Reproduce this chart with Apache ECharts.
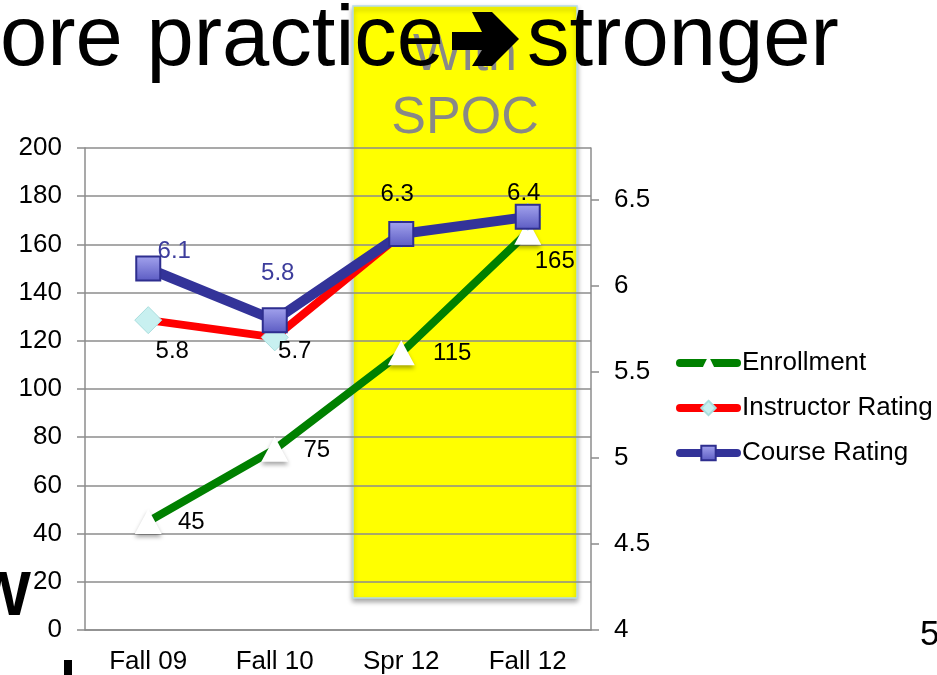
<!DOCTYPE html>
<html>
<head>
<meta charset="utf-8">
<title>Enrollment and ratings</title>
<script src="https://cdn.jsdelivr.net/npm/echarts@6/dist/echarts.min.js"></script>
<style>
  html, body { margin: 0; padding: 0; background: #fff; }
  #chart { width: 937px; height: 675px; }
</style>
</head>
<body>
<div id="chart"></div>
<script>
  // data
  const categories = ['Fall 09', 'Fall 10', 'Spr 12', 'Fall 12'];
  const enrollment = [45, 75, 115, 165];
  const instructorRating = [5.8, 5.7, 6.3, 6.4];
  const courseRating = [6.1, 5.8, 6.3, 6.4];
  const rightTicks = [4, 4.5, 5, 5.5, 6, 6.5];

  // where each value label sits relative to its point (px)
  const enrollmentLabelOffset = [[43, 1], [42, 1], [51, 1], [27, 29]];
  const instructorLabelOffset = [[24, 31], [20, 14], [-4, -40], [-4, -23]];
  const courseLabelOffset = [[26, -17], [3, -47], null, null];

  const font = 'Liberation Sans';

  function withLabels(values, offsets) {
    return values.map((v, i) => {
      if (!offsets[i]) return { value: v, label: { show: false } };
      return { value: v, label: { offset: offsets[i] } };
    });
  }

  let chart = echarts.init(document.getElementById('chart'));
  chart.setOption({
    backgroundColor: '#fff',
    animation: false,
    textStyle: { fontFamily: font },
    grid: { left: 85, right: 346, top: 148, bottom: 43 },
    legend: {
      orient: 'vertical',
      left: 671,
      top: 345,
      itemWidth: 57,
      itemHeight: 18,
      itemGap: 19,
      lineStyle: { width: 8, cap: 'round' },
      textStyle: { fontFamily: font, fontSize: 26, color: '#000' },
      data: ['Enrollment', 'Instructor Rating', 'Course Rating']
    },
    xAxis: {
      type: 'category',
      data: categories,
      axisLine: { lineStyle: { color: '#8c8c8c', width: 1.5 } },
      axisTick: { length: 8, lineStyle: { color: '#8c8c8c', width: 1.5 } },
      axisLabel: { fontSize: 26, color: '#000', margin: 19 }
    },
    yAxis: [
      {
        type: 'value',
        min: 0,
        max: 200,
        interval: 20,
        axisLine: { show: true, lineStyle: { color: '#8c8c8c', width: 1.5 } },
        axisTick: { show: true, length: 8, lineStyle: { color: '#8c8c8c', width: 1.5 } },
        axisLabel: { fontSize: 26, color: '#000', margin: 23 },
        splitLine: { lineStyle: { color: '#8c8c8c', width: 1.5 } }
      },
      {
        type: 'value',
        min: 4,
        max: 6.8,
        interval: 0.5,
        position: 'right',
        axisLine: { show: true, lineStyle: { color: '#8c8c8c', width: 1.5 } },
        axisTick: { show: true, length: 8, customValues: rightTicks, lineStyle: { color: '#8c8c8c', width: 1.5 } },
        axisLabel: { fontSize: 26, color: '#000', margin: 23, customValues: rightTicks },
        splitLine: { show: false }
      }
    ],
    graphic: [
      {
        type: 'rect',
        z: -1,
        shape: { x: 353, y: 6, width: 224, height: 592 },
        style: {
          fill: '#ffff00',
          stroke: '#b5dcea',
          lineWidth: 1.5,
          shadowBlur: 5,
          shadowOffsetY: 3,
          shadowColor: 'rgba(0,0,0,0.35)'
        }
      },
      {
        type: 'text',
        z: 5,
        style: { text: 'With', x: 465, y: 56, align: 'center', verticalAlign: 'middle', font: '52px "Liberation Sans"', fill: '#888888' }
      },
      {
        type: 'text',
        z: 5,
        style: { text: 'SPOC', x: 465, y: 119, align: 'center', verticalAlign: 'middle', font: '52px "Liberation Sans"', fill: '#888888' }
      },
      {
        type: 'text',
        z: 10,
        style: { text: 'ore practice', x: 0, y: 42, align: 'left', verticalAlign: 'middle', font: '85px "Liberation Sans"', fill: '#000' }
      },
      {
        type: 'polygon',
        z: 10,
        shape: {
          points: [[452, 32], [482, 32], [472, 12], [492, 12], [519, 39], [492, 66], [472, 66], [482, 50], [452, 50]]
        },
        style: { fill: '#000' }
      },
      {
        type: 'text',
        z: 10,
        style: { text: 'stronger', x: 527, y: 42, align: 'left', verticalAlign: 'middle', font: '85px "Liberation Sans"', fill: '#000' }
      },
      {
        type: 'text',
        z: 1,
        style: { text: 'W', x: 31, y: 598, align: 'right', verticalAlign: 'middle', font: 'bold 63px "Liberation Sans"', fill: '#000' }
      },
      {
        type: 'text',
        z: 1,
        style: { text: '5', x: 920, y: 635, align: 'left', verticalAlign: 'middle', font: '35px "Liberation Sans"', fill: '#000' }
      },
      {
        type: 'rect',
        z: 1,
        shape: { x: 64, y: 660, width: 8, height: 15 },
        style: { fill: '#000' }
      }
    ],
    series: [
      {
        name: 'Enrollment',
        type: 'line',
        yAxisIndex: 0,
        z: 2,
        data: withLabels(enrollment, enrollmentLabelOffset),
        symbol: 'triangle',
        symbolSize: [27, 25],
        lineStyle: { color: '#008000', width: 8, cap: 'round' },
        itemStyle: {
          color: '#ffffff',
          shadowBlur: 4,
          shadowOffsetY: 3,
          shadowColor: 'rgba(0,0,0,0.35)'
        },
        label: { show: true, position: 'inside', fontSize: 24, color: '#000' }
      },
      {
        name: 'Instructor Rating',
        type: 'line',
        yAxisIndex: 1,
        z: 3,
        data: withLabels(instructorRating, instructorLabelOffset),
        symbol: 'diamond',
        symbolSize: 27,
        lineStyle: { color: '#ff0000', width: 8, cap: 'round' },
        itemStyle: { color: '#c8f0f0', borderColor: '#a9dede', borderWidth: 1 },
        label: { show: true, position: 'inside', fontSize: 24, color: '#000' }
      },
      {
        name: 'Course Rating',
        type: 'line',
        yAxisIndex: 1,
        z: 4,
        data: withLabels(courseRating, courseLabelOffset),
        symbol: 'rect',
        symbolSize: 24,
        lineStyle: { color: '#333399', width: 10, cap: 'round' },
        itemStyle: {
          color: new echarts.graphic.LinearGradient(0, 0, 0, 1, [
            { offset: 0, color: '#a4a4ee' },
            { offset: 1, color: '#5a5ac2' }
          ]),
          borderColor: '#2e2e8f',
          borderWidth: 2
        },
        label: { show: true, position: 'inside', fontSize: 24, color: '#3d3d9c' }
      }
    ]
  });
</script>
</body>
</html>
